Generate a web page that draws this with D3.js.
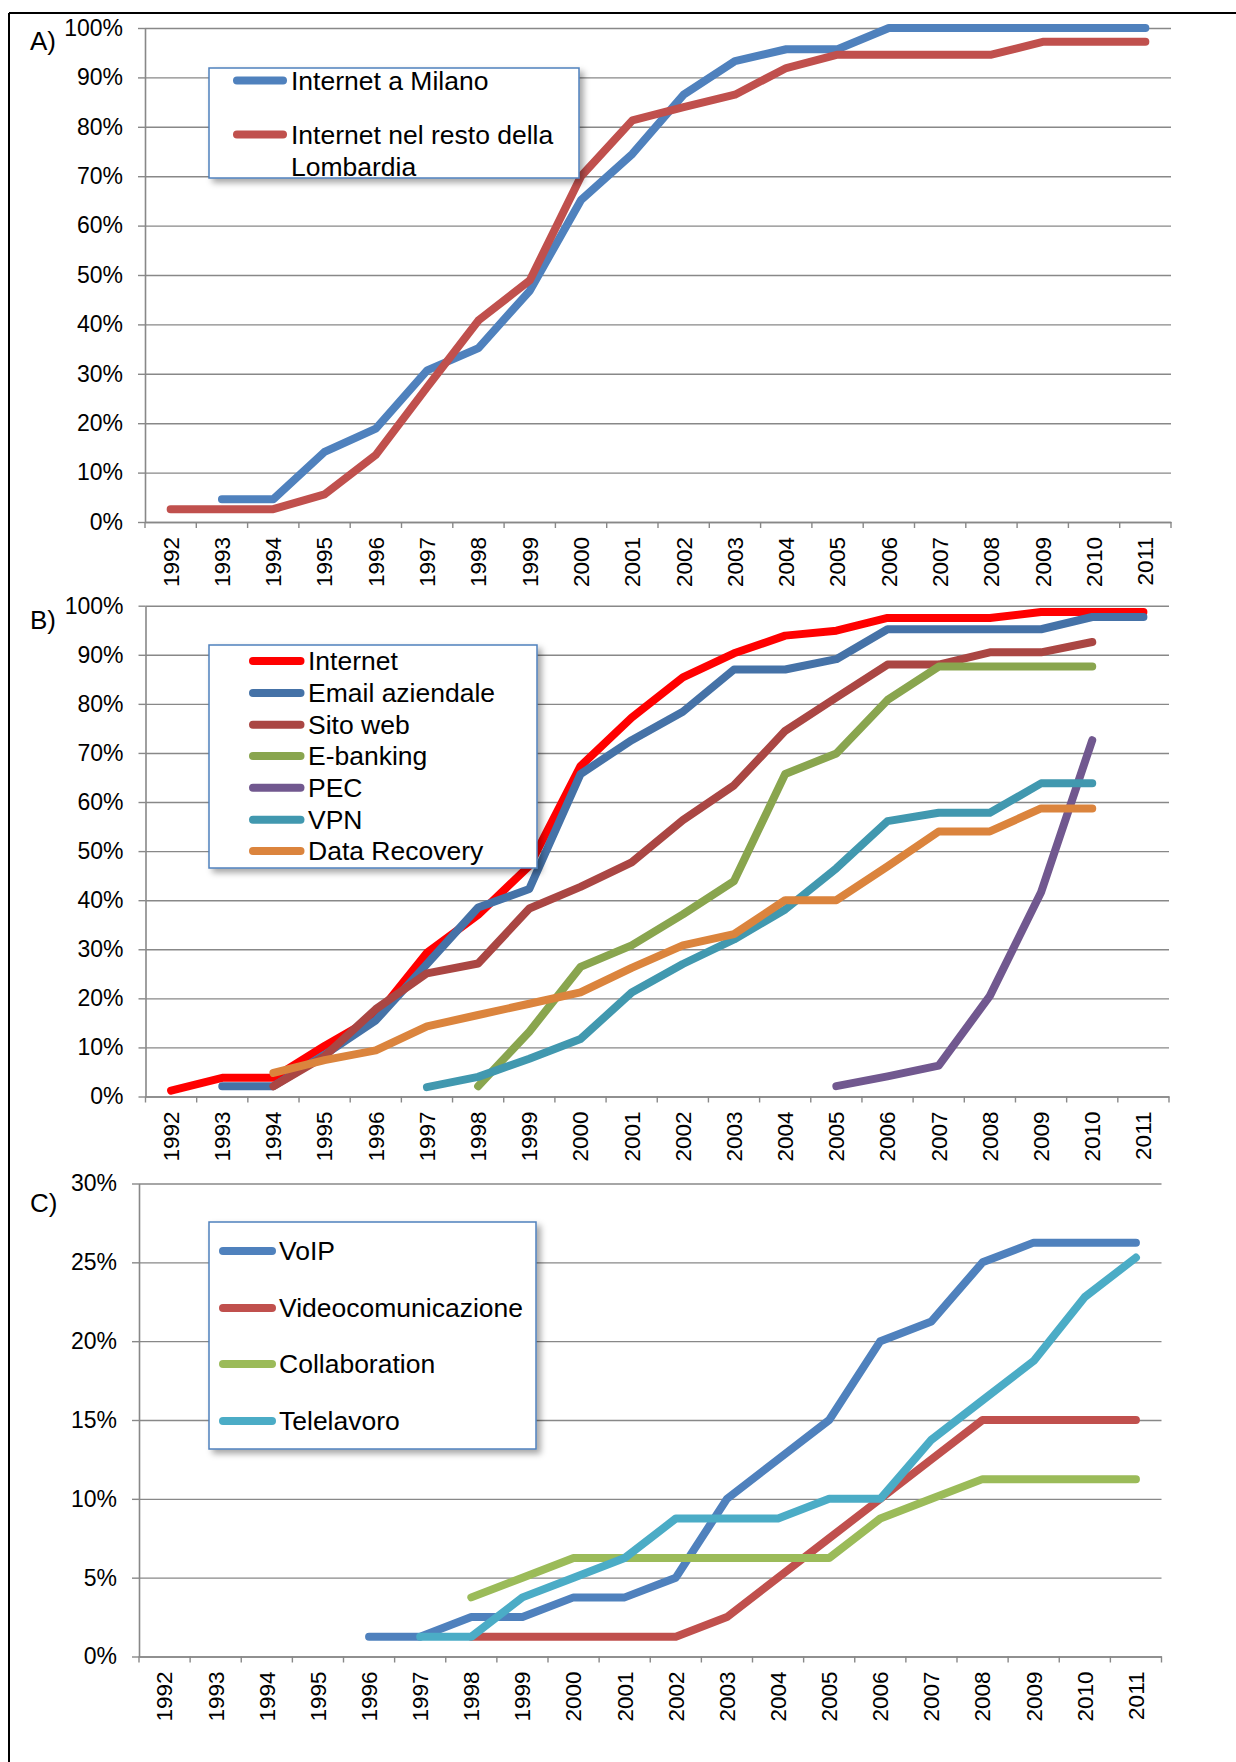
<!DOCTYPE html>
<html>
<head>
<meta charset="utf-8">
<script src="https://cdn.jsdelivr.net/npm/d3@7"></script>
<style>
  html, body { margin: 0; padding: 0; background: #fff; }
  svg { display: block; }
  text { font-family: "Liberation Sans", Arial, sans-serif; fill: #000; }
</style>
</head>
<body>
<script>
// ---------- DATA ----------
const years = ["1992","1993","1994","1995","1996","1997","1998","1999","2000","2001",
               "2002","2003","2004","2005","2006","2007","2008","2009","2010","2011"];

// Panel A
const labelsA = ["Internet a Milano", "Internet nel resto della Lombardia"];
const milano = [null, 4.6, 4.6, 14.2, 18.9, 30.7, 35.2, 46.8, 65.2, 74.5, 86.5, 93.3, 95.7, 95.7, 100, 100, 100, 100, 100, 100];
const restoLombardia = [2.6, 2.6, 2.6, 5.6, 13.6, 27.3, 40.8, 48.9, 70.0, 81.3, 84.0, 86.5, 91.9, 94.6, 94.6, 94.6, 94.6, 97.2, 97.2, 97.2];

// Panel B
const labelsB = ["Internet", "Email aziendale", "Sito web", "E-banking", "PEC", "VPN", "Data Recovery"];
const internet = [1.2, 3.8, 3.8, 10.3, 16.3, 29.3, 37.0, 47.0, 67.3, 77.2, 85.4, 90.3, 93.9, 94.9, 97.5, 97.5, 97.5, 98.7, 98.7, 98.7];
const emailAziendale = [null, 2.1, 2.1, 8.5, 15.5, 27.0, 38.5, 42.3, 65.7, 72.6, 78.4, 87.0, 87.0, 89.1, 95.2, 95.2, 95.2, 95.2, 97.7, 97.7];
const sitoWeb = [null, null, 2.1, 8.2, 17.8, 25.1, 27.1, 38.3, 42.7, 47.7, 56.3, 63.4, 74.5, 81.3, 88.0, 88.0, 90.5, 90.5, 92.6, null];
const eBanking = [null, null, null, null, null, null, 2.1, 13.2, 26.4, 30.8, 37.1, 43.9, 65.7, 69.9, 80.8, 87.6, 87.6, 87.6, 87.6, null];
const pec = [null, null, null, null, null, null, null, null, null, null, null, null, null, 2.1, 4.1, 6.3, 20.5, 41.6, 72.6, null];
const vpn = [null, null, null, null, null, 1.9, 4.0, 7.7, 11.7, 21.2, 27.0, 32.0, 38.1, 46.5, 56.1, 57.8, 57.8, 63.8, 63.8, null];
const dataRecovery = [null, null, 4.8, 7.4, 9.4, 14.3, 16.6, 18.9, 21.2, 26.2, 30.8, 33.1, 40.0, 40.0, 46.9, 54.0, 54.0, 58.7, 58.7, null];

// Panel C
const labelsC = ["VoIP", "Videocomunicazione", "Collaboration", "Telelavoro"];
const voip = [null, null, null, null, 1.25, 1.25, 2.5, 2.5, 3.75, 3.75, 5, 10, 12.5, 15, 20, 21.25, 25, 26.25, 26.25, 26.25];
const videocomunicazione = [null, null, null, null, null, null, 1.25, 1.25, 1.25, 1.25, 1.25, 2.5, 5, 7.5, 10, 12.5, 15, 15, 15, 15];
const collaboration = [null, null, null, null, null, null, 3.75, 5, 6.25, 6.25, 6.25, 6.25, 6.25, 6.25, 8.75, 10, 11.25, 11.25, 11.25, 11.25];
const telelavoro = [null, null, null, null, null, 1.25, 1.25, 3.75, 5, 6.25, 8.75, 8.75, 8.75, 10, 10, 13.75, 16.25, 18.75, 22.8, 25.3];

const ticksAB = [0, 10, 20, 30, 40, 50, 60, 70, 80, 90, 100];
const ticksC = [0, 5, 10, 15, 20, 25, 30];

// ---------- DRAWING ----------
const W = 1236, H = 1762;
const svg = d3.select("body").append("svg").attr("width", W).attr("height", H);
svg.append("rect").attr("width", W).attr("height", H).attr("fill", "#fff");

const defs = svg.append("defs");
const f = defs.append("filter").attr("id", "shadow").attr("x", "-10%").attr("y", "-10%").attr("width", "130%").attr("height", "130%");
f.append("feDropShadow").attr("dx", 4).attr("dy", 4).attr("stdDeviation", 3)
  .attr("flood-color", "#000").attr("flood-opacity", 0.35);

// outer frame (left and top edges visible)
svg.append("line").attr("x1", 9).attr("x2", 9).attr("y1", 13).attr("y2", H).attr("stroke", "#000").attr("stroke-width", 2);
svg.append("line").attr("x1", 9).attr("x2", W).attr("y1", 13).attr("y2", 13).attr("stroke", "#000").attr("stroke-width", 2);

const GRID = "#888888";
const YFONT = 23;
const XFONT = 22.5;
const LFONT = 26.5;

function drawPanel(cfg) {
  const g = svg.append("g");
  const x = d3.scaleBand().domain(years).range([cfg.left, cfg.right]).padding(0);
  const y = d3.scaleLinear().domain([0, cfg.yMax]).range([cfg.bottom, cfg.top]);
  const bw = x.bandwidth();

  // gridlines
  const grid = g.append("g").attr("transform", `translate(${cfg.left},0)`)
    .call(d3.axisLeft(y).tickValues(cfg.ticks).tickSize(-(cfg.right - cfg.left)).tickFormat(""));
  grid.select(".domain").remove();
  grid.selectAll("line").attr("stroke", GRID).attr("stroke-width", 1.4);

  // y axis
  const ya = g.append("g").attr("transform", `translate(${cfg.left},0)`)
    .call(d3.axisLeft(y).tickValues(cfg.ticks).tickSize(7).tickSizeOuter(0).tickPadding(15).tickFormat(d => d + "%"));
  ya.select(".domain").attr("stroke", GRID).attr("stroke-width", 1.6);
  ya.selectAll("line").attr("stroke", GRID).attr("stroke-width", 1.4);
  ya.selectAll("text").attr("font-size", YFONT).style("font-family", '"Liberation Sans", Arial, sans-serif').attr("fill", "#000");

  // x axis line + boundary ticks
  const xa = g.append("g").attr("transform", `translate(0,${cfg.bottom})`)
    .call(d3.axisBottom(x).tickSize(0).tickSizeOuter(0));
  xa.select(".domain").attr("stroke", GRID).attr("stroke-width", 1.6);
  xa.selectAll("text")
    .attr("transform", "rotate(-90)")
    .attr("x", -15).attr("y", 0).attr("dy", "0.35em")
    .style("text-anchor", "end")
    .attr("font-size", XFONT).style("font-family", '"Liberation Sans", Arial, sans-serif').attr("fill", "#000");
  const bounds = years.map(d => x(d)).concat([cfg.right]);
  xa.selectAll("line.bt").data(bounds).enter().append("line").attr("class", "bt")
    .attr("x1", d => d).attr("x2", d => d).attr("y1", 0).attr("y2", 6)
    .attr("stroke", GRID).attr("stroke-width", 1.4);

  // series lines
  const line = d3.line()
    .defined(d => d != null)
    .x((d, i) => x(years[i]) + bw / 2)
    .y(d => y(d));
  cfg.series.forEach(s => {
    g.append("path").datum(s.values)
      .attr("d", line)
      .attr("fill", "none").attr("stroke", s.color)
      .attr("stroke-width", 8).attr("stroke-linecap", "round").attr("stroke-linejoin", "round");
  });

  // panel label
  g.append("text").attr("x", 30).attr("y", cfg.labelBaseline).attr("font-size", 26).text(cfg.label);

  // legend
  const L = cfg.legend;
  g.append("rect").attr("x", L.x0).attr("y", L.y0).attr("width", L.x1 - L.x0).attr("height", L.y1 - L.y0)
    .attr("fill", "#fff").attr("stroke", "#4f81bd").attr("stroke-width", 1.5).attr("filter", "url(#shadow)");
  cfg.series.forEach((s, i) => {
    const cy = L.rows[i];
    g.append("line").attr("x1", L.lx0).attr("x2", L.lx1).attr("y1", cy).attr("y2", cy)
      .attr("stroke", s.color).attr("stroke-width", 8).attr("stroke-linecap", "round");
    const t = g.append("text").attr("x", L.tx).attr("y", cy + 9).attr("font-size", LFONT);
    const lines = s.wrap || [s.name];
    lines.forEach((ln, k) => {
      t.append("tspan").attr("x", L.tx).attr("dy", k === 0 ? 0 : 32).text(ln);
    });
  });
}

drawPanel({
  left: 145, right: 1171, top: 28, bottom: 522, yMax: 100, ticks: ticksAB,
  label: "A)", labelBaseline: 50,
  series: [
    { name: labelsA[0], values: milano, color: "#4f81bd" },
    { name: labelsA[1], values: restoLombardia, color: "#c0504d", wrap: ["Internet nel resto della", "Lombardia"] }
  ],
  legend: { x0: 209, y0: 68, x1: 579, y1: 178, lx0: 237, lx1: 283, tx: 291, rows: [80.5, 134.5] }
});

drawPanel({
  left: 145.5, right: 1169, top: 605.7, bottom: 1096.5, yMax: 100, ticks: ticksAB,
  label: "B)", labelBaseline: 629,
  series: [
    { name: labelsB[0], values: internet, color: "#ff0000" },
    { name: labelsB[1], values: emailAziendale, color: "#4572a7" },
    { name: labelsB[2], values: sitoWeb, color: "#aa4643" },
    { name: labelsB[3], values: eBanking, color: "#89a54e" },
    { name: labelsB[4], values: pec, color: "#71588f" },
    { name: labelsB[5], values: vpn, color: "#4198af" },
    { name: labelsB[6], values: dataRecovery, color: "#db843d" }
  ],
  legend: { x0: 209, y0: 645, x1: 537, y1: 868, lx0: 253, lx1: 300.5, tx: 308,
            rows: [660.9, 692.9, 724.8, 756, 787.7, 819.7, 850.9] }
});

drawPanel({
  left: 139, right: 1161.5, top: 1183.5, bottom: 1656.5, yMax: 30, ticks: ticksC,
  label: "C)", labelBaseline: 1212,
  series: [
    { name: labelsC[0], values: voip, color: "#4f81bd" },
    { name: labelsC[1], values: videocomunicazione, color: "#c0504d" },
    { name: labelsC[2], values: collaboration, color: "#9bbb59" },
    { name: labelsC[3], values: telelavoro, color: "#4bacc6" }
  ],
  legend: { x0: 209, y0: 1222, x1: 536, y1: 1449, lx0: 223, lx1: 272, tx: 279,
            rows: [1251, 1308, 1364, 1421] }
});
</script>
</body>
</html>
